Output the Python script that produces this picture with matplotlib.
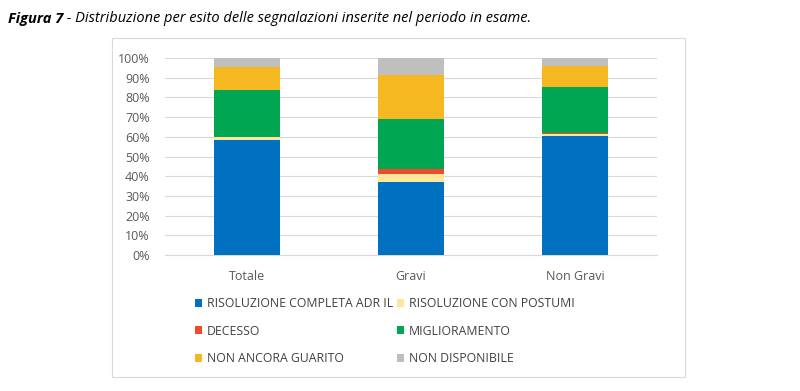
import matplotlib.pyplot as plt
import matplotlib.patches as mpatches
import numpy as np

categories = ['Totale', 'Gravi', 'Non Gravi']
series_names = ['RISOLUZIONE COMPLETA ADR IL', 'RISOLUZIONE CON POSTUMI', 'DECESSO',
                'MIGLIORAMENTO', 'NON ANCORA GUARITO', 'NON DISPONIBILE']
completa = [58.4, 37.2, 60.6]
postumi = [1.4, 3.9, 1.0]
decesso = [0.2, 2.4, 0.1]
miglioramento = [23.8, 25.4, 23.7]
non_guarito = [11.5, 22.5, 10.5]
non_disponibile = [4.7, 8.6, 4.1]
colors = ['#0070C0', '#FFE699', '#EE4B2B', '#00A651', '#F5B820', '#BFBFBF']

plt.rcParams['font.family'] = ['Open Sans', 'DejaVu Sans']

fig = plt.figure(figsize=(8, 3.91), dpi=100)
# outer chart frame
fig.patches.append(mpatches.Rectangle((112/800, 1-377/391), 573/800, 339/391,
                                      transform=fig.transFigure, fill=False,
                                      edgecolor='#D9D9D9', linewidth=0.8))

ax = fig.add_axes([165/800, 1-255/391, 492/800, 197/391])
x = np.arange(len(categories))
bottom = np.zeros(len(categories))
handles = []
for vals, name, c in zip([completa, postumi, decesso, miglioramento, non_guarito, non_disponibile],
                         series_names, colors):
    b = ax.bar(x, vals, 0.4, bottom=bottom, color=c, label=name, zorder=3)
    handles.append(b)
    bottom += np.array(vals)

ax.set_xlim(-0.5, 2.5)
ax.set_ylim(0, 100)
ax.set_yticks(range(0, 101, 10))
ax.set_yticklabels([f'{v}%' for v in range(0, 101, 10)])
ax.set_xticks(x)
ax.set_xticklabels(categories)
ax.grid(axis='y', color='#D9D9D9', linewidth=0.8, zorder=0)
for s in ['top', 'right', 'left']:
    ax.spines[s].set_visible(False)
ax.spines['bottom'].set_color('#D9D9D9')
ax.tick_params(length=0, labelsize=9, colors='#595959', pad=11)
ax.tick_params(axis='x', pad=11)

# legend filled row-wise like the original
order = [0, 2, 4, 1, 3, 5]
leg = fig.legend([handles[i] for i in order], [series_names[i] for i in order],
                 ncol=2, loc='upper left', bbox_to_anchor=(195/800, 1-297/391),
                 frameon=False, fontsize=8.8, handlelength=0.6, handleheight=0.6,
                 handletextpad=0.35, columnspacing=0.35, labelspacing=1.2,
                 borderaxespad=0, borderpad=0)
for t in leg.get_texts():
    t.set_color('#404040')

t1 = fig.text(8/800, 1-19/391, 'Figura 7', fontsize=10.5, fontweight='bold', fontstyle='italic',
              va='center')
fig.canvas.draw()
bb = t1.get_window_extent()
fig.text(bb.x1/800, 1-19/391, ' - Distribuzione per esito delle segnalazioni inserite nel periodo in esame.',
         fontsize=10.5, fontstyle='italic', va='center')

fig.savefig('out.png', dpi=100)
